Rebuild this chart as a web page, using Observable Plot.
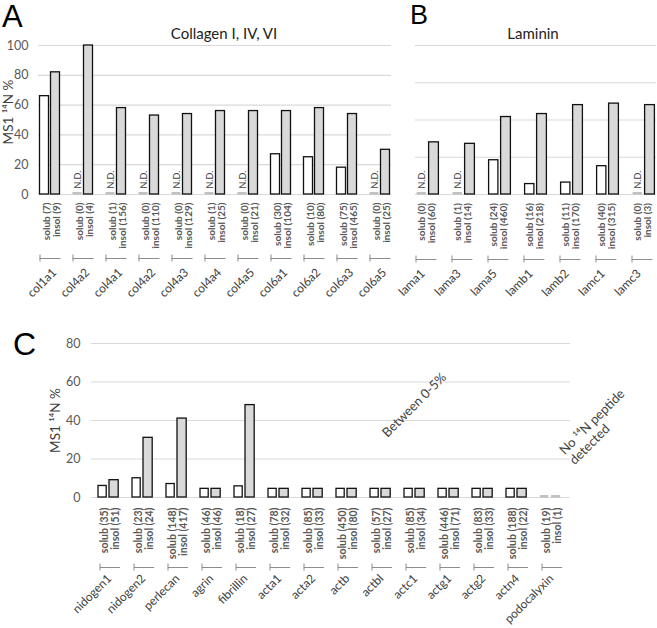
<!DOCTYPE html>
<html><head><meta charset="utf-8">
<script src="https://cdn.jsdelivr.net/npm/d3@7"></script>
<script src="https://cdn.jsdelivr.net/npm/@observablehq/plot@0.6"></script>
<style>
body{margin:0;background:#fff;font-family:Lato,sans-serif;}
#fig{position:relative;width:657px;height:628px;overflow:hidden;background:#fff;}
#fig > *{position:absolute;}
.letter{font-family:"Liberation Sans",Arial,sans-serif;line-height:1;color:#000;}
.title{font-family:Lato,sans-serif;font-size:15px;line-height:1;color:#222;transform:translateX(-50%);white-space:nowrap;}
</style></head><body><div id="fig"></div>
<script>
// ---------- Panel A: Collagen I, IV, VI ----------
const catsA = ["col1a1","col4a2","col4a1","col4a2","col4a3","col4a4","col4a5","col6a1","col6a2","col6a3","col6a5"];
const solubA = [66, 0, 0, 0, 0, 0, 0, 27, 25, 18, 0];   // 0 = N.D.
const insolA = [82, 100, 58, 53, 54, 56, 56, 56, 58, 54, 30];
const solubCountA = [7, 0, 1, 0, 0, 1, 0, 30, 10, 75, 0];
const insolCountA = [9, 4, 156, 110, 129, 25, 21, 104, 80, 465, 25];
const ticksA = [0, 20, 40, 60, 80, 100];

// ---------- Panel B: Laminin ----------
const catsB = ["lama1","lama3","lama5","lamb1","lamb2","lamc1","lamc3"];
const solubB = [0, 0, 23, 7, 8, 19, 0];
const insolB = [35, 34, 52, 54, 60, 61, 60];
const solubCountB = [0, 1, 24, 16, 11, 40, 0];
const insolCountB = [60, 14, 460, 218, 170, 315, 3];
const gridB = [0, 25, 50, 75, 100];

// ---------- Panel C ----------
const catsC = ["nidogen1","nidogen2","perlecan","agrin","fibrillin","acta1","acta2","actb","actbl","actc1","actg1","actg2","actn4","podocalyxin"];
const solubC = [6, 10, 7, 4.5, 5.8, 4.5, 4.5, 4.5, 4.5, 4.5, 4.5, 4.5, 4.5, 0];
const insolC = [9, 31, 41, 4.5, 48, 4.5, 4.5, 4.5, 4.5, 4.5, 4.5, 4.5, 4.5, 0];
const solubCountC = [35, 23, 148, 46, 18, 78, 85, 450, 57, 85, 446, 83, 188, 19];
const insolCountC = [51, 24, 417, 46, 27, 32, 33, 80, 27, 34, 71, 33, 22, 1];
const ticksC = [0, 20, 40, 60, 80];
const noteBetween = {text: "Between 0-5%", at: "actbl", y: 32.5};
const noteNone = {text: "No \u00b9\u2074N peptide\ndetected", at: "podocalyxin", y: 21};

const yLabel = "MS1 \u00b9\u2074N %";

function rows(cats, sol, ins, nS, nI) {
  return cats.map((c, i) => ({k: String(i), label: c, solub: sol[i], insol: ins[i], nS: nS[i], nI: nI[i], base: 0}));
}

const STROKE = "#111";
const INSOL_FILL = "#d9d9d9";
const GRID = "#d9d9d9";
const BRACKET = "#8c8c8c";

function panel(cfg) {
  const data = rows(cfg.cats, cfg.sol, cfg.ins, cfg.nS, cfg.nI);
  const keys = data.map(d => d.k);
  const groupText = d => `solub (${d.nS})\ninsol (${d.nI})`;
  const marks = [
    Plot.ruleY(cfg.grid, {stroke: GRID, strokeWidth: 1.2, insetLeft: cfg.gridL, insetRight: cfg.gridR}),
    Plot.barY(data.filter(d => d.solub > 0), {x: "k", y: "solub", fill: "white", stroke: STROKE, strokeWidth: 1.3, insetLeft: cfg.sL, insetRight: cfg.sR}),
    Plot.barY(data.filter(d => d.insol > 0), {x: "k", y: "insol", fill: INSOL_FILL, stroke: STROKE, strokeWidth: 1.3, insetLeft: cfg.iL, insetRight: cfg.iR}),
    Plot.tickY(data.filter(d => d.solub === 0), {x: "k", y: "base", stroke: "#bfbfbf", strokeWidth: 2.5, dy: -1.2, insetLeft: cfg.sL, insetRight: cfg.sR}),
    Plot.tickY(data.filter(d => d.insol === 0), {x: "k", y: "base", stroke: "#bfbfbf", strokeWidth: 2.5, dy: -1.2, insetLeft: cfg.iL, insetRight: cfg.iR}),
    Plot.tickY(data, {x: "k", y: "base", dy: cfg.bdy, stroke: BRACKET, strokeWidth: 1, insetLeft: cfg.bL, insetRight: cfg.bR}),
    Plot.ruleX(data, {x: "k", y1: "base", y2: "base", insetTop: -3.5, insetBottom: -3.5, dx: cfg.btx, dy: cfg.bdy, stroke: BRACKET, strokeWidth: 1}),
    Plot.text(data, {x: "k", y: "base", text: groupText, rotate: -90, textAnchor: "end", lineAnchor: "middle", lineHeight: cfg.glh, fontSize: cfg.gfs, fontWeight: "bold", fill: "#595959", dy: cfg.gdy, dx: cfg.gdx}),
    Plot.text(data, {x: "k", y: "base", text: "label", rotate: -45, textAnchor: "end", lineAnchor: "middle", fontSize: cfg.cfs, fill: "#404040", dx: cfg.cdx, dy: cfg.cdy})
  ];
  if (cfg.nd) {
    marks.push(Plot.text(data.filter(d => d.solub === 0), {x: "k", y: "base", text: () => "N.D.", rotate: -90, textAnchor: "start", lineAnchor: "middle", fontSize: 9, fill: "#404040", dx: cfg.nddx, dy: -6}));
  }
  if (cfg.ylabel) {
    marks.push(Plot.text([yLabel], {text: d => d, frameAnchor: "left", textAnchor: "middle", rotate: -90, fontSize: 13.5, fill: "#404040", dx: cfg.ylx, dy: cfg.yly}));
  }
  if (cfg.extra) marks.push(...cfg.extra(data));
  const svg = Plot.plot({
    width: cfg.width, height: cfg.height,
    marginLeft: cfg.ml, marginRight: cfg.mr, marginTop: cfg.mt, marginBottom: cfg.mb,
    x: {domain: keys, padding: 0, axis: null},
    y: cfg.yaxis ? {domain: cfg.domain, ticks: cfg.ticks, tickSize: 0, tickPadding: cfg.tp, label: null}
                 : {domain: cfg.domain, axis: null},
    style: {fontFamily: "Lato, sans-serif", fontSize: "12.5px", color: "#595959", background: "transparent", overflow: "visible"},
    marks
  });
  svg.style.left = cfg.left + "px";
  svg.style.top = cfg.top + "px";
  return svg;
}

const fig = document.getElementById("fig");

fig.appendChild(panel({
  cats: catsA, sol: solubA, ins: insolA, nS: solubCountA, nI: insolCountA,
  left: 0, top: 0, width: 400, height: 300, ml: 32.5, mr: 4.5, mt: 45, mb: 106,
  domain: [0, 100], ticks: ticksA, grid: ticksA, yaxis: true, tp: 4.5,
  gridL: 5.5, gridR: 4.5,
  sL: 6.5, sR: 17.5, iL: 17.5, iR: 6.5,
  gfs: 10, glh: 1.0, gdy: 8, gdx: 1.5,
  bdy: 64, bL: 6.5, bR: 5.5, btx: -10,
  cfs: 12, cdx: 4.5, cdy: 76,
  nd: true, nddx: -5,
  ylabel: true, ylx: -24, yly: -8
}));

fig.appendChild(panel({
  cats: catsB, sol: solubB, ins: insolB, nS: solubCountB, nI: insolCountB,
  left: 398, top: 0, width: 265, height: 300, ml: 9.4, mr: 2.2, mt: 45, mb: 106,
  domain: [0, 100], grid: gridB, yaxis: false,
  gridL: 7.6, gridR: 4.8,
  sL: 8.6, sR: 18.1, iL: 20.6, iR: 5.6,
  gfs: 10, glh: 1.0, gdy: 8.5, gdx: 0,
  bdy: 65, bL: 7.6, bR: 7.6, btx: -10.5,
  cfs: 12, cdx: -3.5, cdy: 77,
  nd: true, nddx: -4.75
}));

fig.appendChild(panel({
  cats: catsC, sol: solubC, ins: insolC, nS: solubCountC, nI: insolCountC,
  left: 0, top: 300, width: 657, height: 328, ml: 87.1, mr: 82.7, mt: 43, mb: 131,
  domain: [0, 80], ticks: ticksC, grid: ticksC, yaxis: true, tp: 7,
  gridL: 3.9, gridR: 4.3,
  sL: 5, sR: 20.8, iL: 16, iR: 8.8,
  gfs: 10.5, glh: 1.05, gdy: 10, gdx: -1,
  bdy: 70, bL: 6.9, bR: 6.9, btx: -10.5,
  cfs: 12, cdx: -1, cdy: 79,
  ylabel: true, ylx: -32, yly: 0,
  extra: (data) => {
    const keyOf = name => data.find(d => d.label === name).k;
    return [
      Plot.text([noteBetween], {x: d => keyOf(d.at), y: "y", text: "text", rotate: -45, textAnchor: "start", lineAnchor: "middle", fontSize: 13, fill: "#404040", dx: 2}),
      Plot.text([noteNone], {x: d => keyOf(d.at), y: "y", text: "text", rotate: -45, textAnchor: "start", lineAnchor: "middle", lineHeight: 1.1, fontSize: 13, fill: "#404040", dx: 14})
    ];
  }
}));

function addDiv(cls, text, left, top, size) {
  const d = document.createElement("div");
  d.className = cls;
  d.textContent = text;
  d.style.left = left + "px";
  d.style.top = top + "px";
  if (size) d.style.fontSize = size + "px";
  fig.appendChild(d);
}
addDiv("letter", "A", 2, 1, 31);
addDiv("letter", "B", 410, 2, 27);
addDiv("letter", "C", 13, 328, 32);
addDiv("title", "Collagen I, IV, VI", 224, 25.5);
addDiv("title", "Laminin", 533, 25.5);
</script>
</body></html>
